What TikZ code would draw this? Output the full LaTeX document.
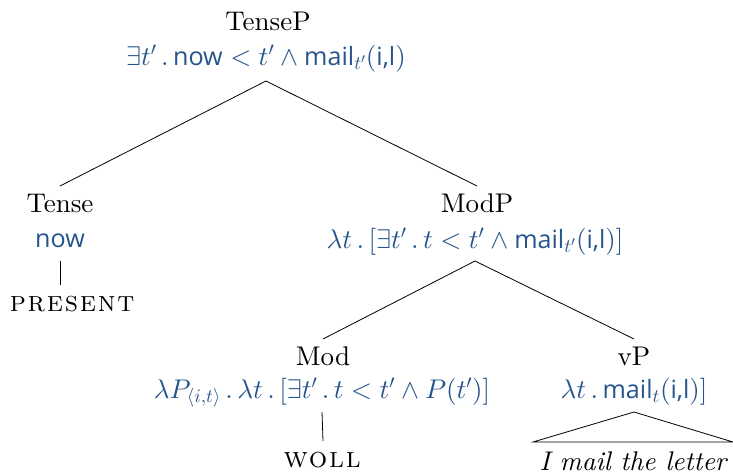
\documentclass[tikz,border=0pt]{standalone}
\usepackage{amsmath}
\usepackage{fontspec}
\setmainfont{lmroman10-regular.otf}[ItalicFont=lmroman10-italic.otf,SmallCapsFont=lmromancaps10-regular.otf]
\setsansfont{Open Sans}[Scale=0.93]
\DeclareFontShape{OML}{cmm}{m}{it}{<->cmmi10}{}
\DeclareFontShape{OMS}{cmsy}{m}{n}{<->cmsy10}{}
\DeclareFontShape{OT1}{cmr}{m}{n}{<->cmr10}{}
\DeclareMathSizes{27}{27}{19}{14}
\definecolor{semblue}{RGB}{38,84,140}
\newcommand{\sem}[1]{\text{\sffamily #1}}
\newcommand{\pd}{\,.\,}
\newcommand{\lex}[1]{{\fontsize{29}{32}\selectfont\addfontfeature{LetterSpace=6}\textsc{#1}}}
\begin{document}
\begin{tikzpicture}[x=1pt,y=-1pt,
  every node/.style={font=\fontsize{27}{32}\selectfont},
  cat/.style={anchor=base,inner sep=0pt,text height=18pt,text depth=0pt,outer ysep=8pt},
  semf/.style={anchor=base,inner sep=0pt,text depth=0pt,outer ysep=15pt,text=semblue},
  leaf/.style={anchor=base,inner sep=0pt,text height=18pt,text depth=0pt,outer ysep=10pt},
  branch/.style={draw=black,line width=0.8pt}]
\useasboundingbox (0,0) rectangle (733,474);
% nodes
\node[cat] (tp) at (268,30) {TenseP};
\node[semf,outer ysep=16pt] (tps) at (266,65) {$\exists t'\pd\sem{now} < t' \wedge \sem{mail}_{t'}(\sem{i,l})$};
\node[cat] (t) at (60,212) {Tense};
\node[semf,outer ysep=14pt] (ts) at (60,247) {$\sem{now}$};
\node[leaf,outer ysep=11pt,text height=15pt] (pres) at (73,311) {\lex{present}};
\node[cat] (mp) at (477,212) {ModP};
\node[semf,outer ysep=13pt] (mps) at (475,248) {$\lambda t\pd[\exists t'\pd t < t' \wedge \sem{mail}_{t'}(\sem{i,l})]$};
\node[cat] (m) at (323,365) {Mod};
\node[semf,outer ysep=14pt] (ms) at (322,398) {$\lambda P_{\langle i,t\rangle}\pd\lambda t\pd[\exists t'\pd t < t' \wedge P(t')]$};
\node[leaf,outer ysep=11pt,text height=15pt] (woll) at (323,467) {\lex{woll}};
\node[cat] (vp) at (634,365) {vP};
\node[semf,outer ysep=14pt] (vps) at (634,398) {$\lambda t\pd\sem{mail}_t(\sem{i,l})]$};
\node[leaf,minimum width=200pt,outer xsep=0pt] (lf) at (633,470) {\itshape I mail the letter};
% branches
\draw[branch] (tps.south) -- (t.north);
\draw[branch] (tps.south) -- (mp.north);
\draw[branch] (ts.south) -- ([xshift=-13pt]pres.north);
\draw[branch] (mps.south) -- (m.north);
\draw[branch] (mps.south) -- (vp.north);
\draw[branch] (ms.south) -- (woll.north);
\draw[branch] (vps.south) -- (lf.north west) -- (lf.north east) -- cycle;
\end{tikzpicture}
\end{document}
